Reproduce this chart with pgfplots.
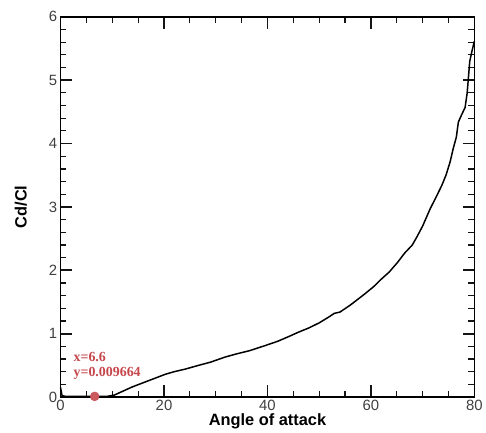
\documentclass[border=0pt]{standalone}
\usepackage{pgfplots}
\pgfplotsset{compat=1.18}
\usepackage{fontspec}
\setmainfont{Liberation Sans}
\newfontfamily\serifred{Liberation Serif}
\definecolor{annred}{RGB}{190,50,55}
\definecolor{tickcol}{RGB}{20,20,20}
\begin{document}
\begin{tikzpicture}
\begin{axis}[
  name=main,
  scale only axis,
  width=417pt, height=383pt,
  xmin=0, xmax=80, ymin=0, ymax=6,
  xtick={0,20,40,60,80}, ytick={0,1,2,3,4,5,6},
  minor x tick num=3, minor y tick num=4,
  tick align=inside,
  major tick length=12pt, minor tick length=6pt,
  every major tick/.append style={draw=tickcol, line width=1.8pt},
  every minor tick/.append style={draw=tickcol, line width=1.2pt},
  axis line style={line width=1.6pt},
  tick label style={font=\fontsize{15}{17}\selectfont, text=black!75},
  /pgf/number format/assume math mode=true,
  xlabel={\bfseries Angle of attack},
  ylabel={\bfseries Cd/Cl},
  label style={font=\fontsize{16.5}{19}\selectfont},
  xlabel style={at={(axis description cs:0.5,-0.064)}, anchor=center},
  ylabel style={at={(axis description cs:-0.096,0.5)}, anchor=center},
  clip=false,
]
\addplot[black, line width=1.5pt] coordinates {
 (0,0.15) (0.3,0.02) (1,0.01) (4,0.01) (6.6,0.0097) (9,0.01) (10.4,0.03)
 (12,0.09) (13.9,0.16) (15.5,0.21) (17.1,0.26) (18.7,0.31) (20.3,0.36)
 (22,0.40) (24.1,0.44) (26.7,0.50) (29,0.55) (31.8,0.63) (34,0.68)
 (36.5,0.73) (39.5,0.81) (42,0.88) (44,0.95) (45.9,1.02) (48,1.09)
 (50,1.17) (52,1.27) (52.9,1.32) (54,1.34) (56,1.45) (58.7,1.62)
 (60.5,1.74) (62,1.86) (63.5,1.97) (65.1,2.12) (66.5,2.27) (68,2.40)
 (68.9,2.53) (70,2.70) (71.5,2.98) (72.5,3.14) (73.7,3.34) (74.5,3.50)
 (75.3,3.71) (75.9,3.92) (76.5,4.10) (76.9,4.34) (77.5,4.45) (78.2,4.57)
 (78.6,4.80) (79.1,5.30) (79.5,5.45) (80,5.62)
};
\addplot[only marks, mark=*, mark size=4.5pt, draw=annred!90, fill=annred!80] coordinates {(6.6,0.009664)};
\node[anchor=south west, align=left, text=annred!90, font=\serifred\bfseries\fontsize{14}{15}\selectfont, inner sep=0pt]
  at (axis cs:2.5,0.27) {x=6.6\\y=0.009664};
\end{axis}
\path (main.south west) ++(-61pt,-36pt);
\path (main.north east) ++(8pt,17pt);
\end{tikzpicture}
\end{document}
